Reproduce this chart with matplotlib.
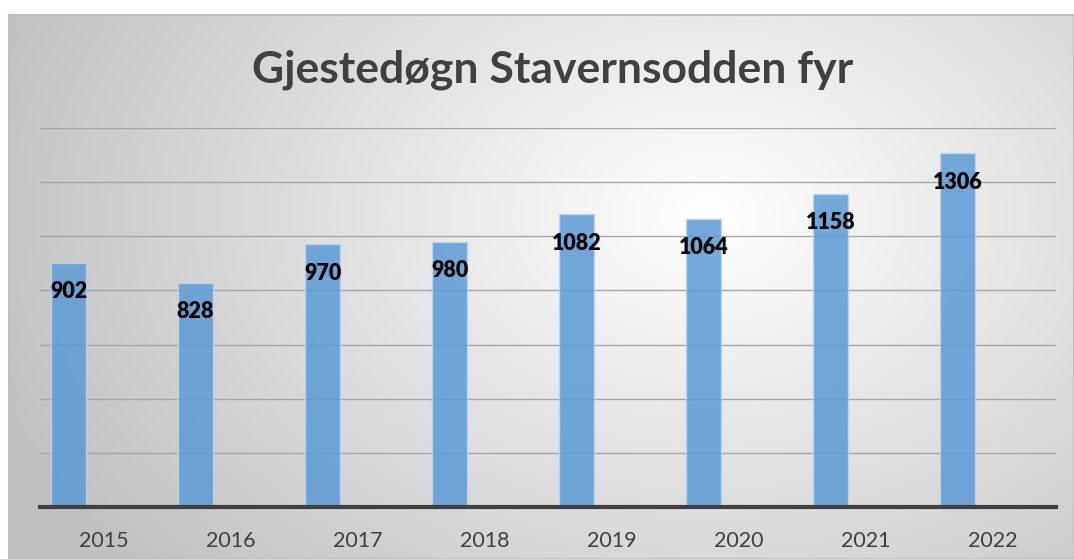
import numpy as np
import matplotlib
matplotlib.use("Agg")
import matplotlib.pyplot as plt

years = ["2015", "2016", "2017", "2018", "2019", "2020", "2021", "2022"]
guests = [902, 828, 970, 980, 1082, 1064, 1158, 1306]

plt.rcParams['font.family'] = ['Lato', 'DejaVu Sans']

W, H = 1074, 559
fig = plt.figure(figsize=(W / 100, H / 100), dpi=100)
fig.patch.set_facecolor("white")

# background panel with radial gradient
bg = fig.add_axes([9 / W, 0, 1 - 9 / W, (H - 15) / H])
gx, gy = np.meshgrid(np.linspace(0, W - 9, 400), np.linspace(0, H - 15, 220))
d = np.sqrt((gx - 700) ** 2 + ((gy - 200) * 1.4) ** 2) / 750
d = np.clip(d, 0, 1)
shade = 1.0 - 0.24 * d
img = np.dstack([shade, shade, shade])
bg.imshow(img, extent=[0, 1, 0, 1], aspect="auto", origin="upper")
bg.set_xlim(0, 1)
bg.set_ylim(0, 1)
bg.set_xticks([])
bg.set_yticks([])
for s in bg.spines.values():
    s.set_color("#BFBFBF")
    s.set_linewidth(1.5)

ax = fig.add_axes([40 / W, (H - 507) / H, 1016 / W, (507 - 128) / H])
ax.patch.set_alpha(0)
x = np.arange(len(years))
# bars sit left of the category centre (as in an Excel cluster)
xb = x - 0.275
bars = ax.bar(xb, guests, width=0.27, color="#5B9BD5", alpha=0.85,
              edgecolor="#BDD7EE", linewidth=1, zorder=3)
ax.set_xlim(-0.5, len(years) - 0.5)
ax.set_ylim(0, 1400)
ax.set_yticks(np.arange(200, 1401, 200))
ax.yaxis.grid(True, color="#A6A6A6", linewidth=1, zorder=1)
ax.tick_params(axis="y", left=False, labelleft=False)
ax.set_xticks(x)
ax.set_xticklabels(years, fontsize=15.5, color="#404040")
ax.tick_params(axis="x", length=0, pad=17)
for side in ["top", "right", "left"]:
    ax.spines[side].set_visible(False)
ax.spines["bottom"].set_color("#404040")
ax.spines["bottom"].set_linewidth(3)
ax.spines["bottom"].set_zorder(5)

for xi, v in zip(xb, guests):
    ax.annotate(str(v), (xi, v), xytext=(0, -29), textcoords="offset pixels",
                ha="center", va="center", fontsize=15.5, fontweight="heavy",
                color="black", zorder=6)

fig.text(553 / W, 1 - 70 / H, "Gjestedøgn Stavernsodden fyr", ha="center",
         va="center", fontsize=32, fontweight="bold", color="#404040")

fig.savefig("out.png", dpi=100)
